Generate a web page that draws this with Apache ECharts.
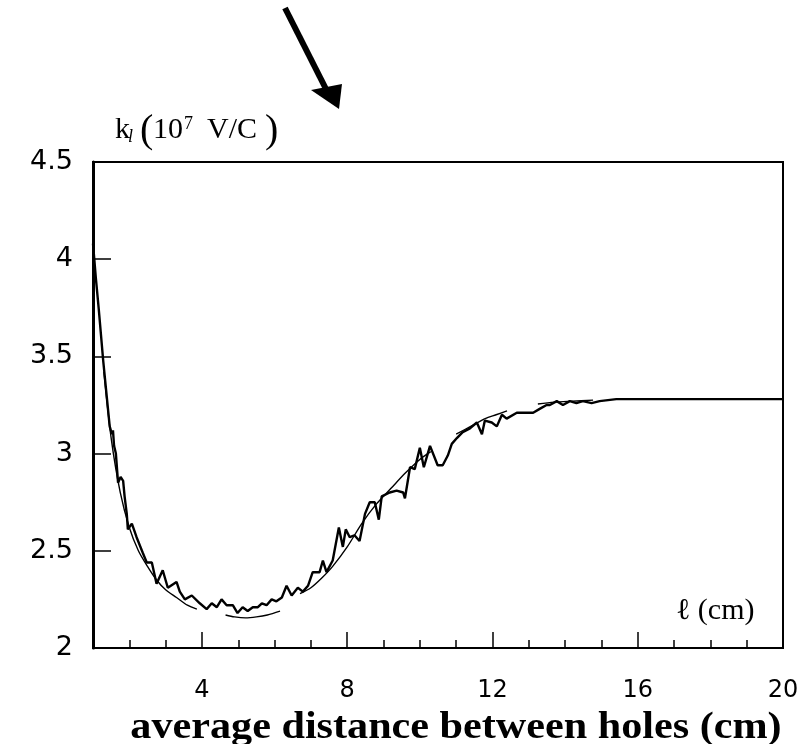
<!DOCTYPE html>
<html>
<head>
<meta charset="utf-8">
<script src="https://cdn.jsdelivr.net/npm/echarts@6/dist/echarts.min.js"></script>
<style>
html,body{margin:0;padding:0;background:#fff;}
#chart{width:811px;height:744px;}
</style>
</head>
<body>
<div id="chart"></div>
<script>
// ---- tick labels ----
const xTickLabels = [4, 8, 12, 16, 20];
const xMajorTicks = [4, 8, 12, 16];
const xMinorTicks = [2, 3, 5, 6, 7, 9, 10, 11, 13, 14, 15, 17, 18, 19];
const yTickLabels = [2, 2.5, 3, 3.5, 4, 4.5];

// ---- measured (noisy) curve ----
const measuredX = [1.0, 1.08, 1.16, 1.28, 1.46, 1.52, 1.55, 1.58, 1.63, 1.69, 1.76, 1.83, 1.87, 1.93, 1.96, 2.07, 2.2, 2.37, 2.48, 2.62, 2.75, 2.92, 3.06, 3.3, 3.39, 3.53, 3.72, 3.94, 4.13, 4.27, 4.41, 4.54, 4.68, 4.85, 4.98, 5.12, 5.26, 5.4, 5.54, 5.65, 5.78, 5.92, 6.05, 6.2, 6.33, 6.47, 6.64, 6.78, 6.92, 7.05, 7.24, 7.33, 7.43, 7.6, 7.77, 7.88, 7.96, 8.07, 8.2, 8.34, 8.49, 8.62, 8.76, 8.87, 8.95, 9.17, 9.36, 9.54, 9.59, 9.73, 9.86, 10.0, 10.11, 10.28, 10.49, 10.63, 10.77, 10.88, 11.02, 11.18, 11.38, 11.57, 11.71, 11.79, 11.98, 12.12, 12.26, 12.39, 12.67, 12.94, 13.12, 13.3, 13.49, 13.58, 13.77, 13.94, 14.13, 14.31, 14.49, 14.73, 14.95, 15.41, 15.85, 20];
const measuredY = [4.08, 3.9, 3.74, 3.48, 3.14, 3.1, 3.12, 3.04, 3.0, 2.85, 2.88, 2.86, 2.78, 2.69, 2.61, 2.64, 2.57, 2.49, 2.44, 2.44, 2.33, 2.4, 2.31, 2.34, 2.29, 2.25, 2.27, 2.23, 2.2, 2.23, 2.21, 2.25, 2.22, 2.22, 2.18, 2.21, 2.19, 2.21, 2.21, 2.23, 2.22, 2.25, 2.24, 2.26, 2.32, 2.27, 2.31, 2.29, 2.32, 2.39, 2.39, 2.45, 2.39, 2.45, 2.62, 2.52, 2.61, 2.57, 2.58, 2.55, 2.69, 2.75, 2.75, 2.66, 2.78, 2.8, 2.81, 2.8, 2.77, 2.93, 2.92, 3.03, 2.93, 3.04, 2.94, 2.94, 2.99, 3.05, 3.08, 3.11, 3.13, 3.16, 3.1, 3.17, 3.16, 3.14, 3.2, 3.18, 3.21, 3.21, 3.21, 3.23, 3.25, 3.25, 3.27, 3.25, 3.27, 3.26, 3.27, 3.26, 3.27, 3.28, 3.28, 3.28];

// ---- smooth fit segments ----
const fit1X = [1.3, 1.5, 1.75, 2.0, 2.25, 2.5, 2.75, 3.0, 3.3, 3.6, 3.86];
const fit1Y = [3.42, 3.08, 2.8, 2.62, 2.5, 2.42, 2.35, 2.3, 2.26, 2.22, 2.2];
const fit2X = [4.65, 4.9, 5.2, 5.5, 5.8, 6.15];
const fit2Y = [2.17, 2.16, 2.155, 2.16, 2.17, 2.19];
const fit3X = [6.7, 7.0, 7.3, 7.6, 8.0, 8.4, 8.8, 9.2, 9.6, 10.0, 10.3];
const fit3Y = [2.28, 2.31, 2.36, 2.42, 2.52, 2.64, 2.74, 2.82, 2.9, 2.97, 3.01];
const fit4X = [11.0, 11.4, 11.8, 12.1, 12.4];
const fit4Y = [3.1, 3.14, 3.18, 3.2, 3.22];
const fit5X = [13.25, 13.7, 14.2, 14.77];
const fit5Y = [3.255, 3.265, 3.27, 3.275];

const zip = (xs, ys) => xs.map((x, i) => [x, ys[i]]);

const chart = echarts.init(document.getElementById('chart'), null, {renderer: 'canvas'});

const fitSeries = [[fit1X, fit1Y], [fit2X, fit2Y], [fit3X, fit3Y], [fit4X, fit4Y], [fit5X, fit5Y]].map(([xs, ys], i) => ({
  type: 'line',
  name: 'fit' + (i + 1),
  data: zip(xs, ys),
  showSymbol: false,
  symbol: 'none',
  smooth: 0.3,
  lineStyle: {color: '#000', width: 1.4},
  z: 3,
  silent: true
}));

const serif = "'Liberation Serif', 'Times New Roman', 'DejaVu Serif', serif";

const option = {
  backgroundColor: '#fff',
  animation: false,
  grid: {
    left: 93, right: 28, top: 162, bottom: 96,
    show: true, borderColor: '#000', borderWidth: 2, backgroundColor: 'transparent'
  },
  xAxis: [
    {
      type: 'value', min: 1, max: 20,
      axisLine: {show: true, lineStyle: {color: '#000', width: 2}},
      axisTick: {show: true, inside: true, length: 16, customValues: xMajorTicks, lineStyle: {color: '#000', width: 1.5}},
      axisLabel: {customValues: xTickLabels, margin: 31, color: '#000', fontSize: 24, fontFamily: "'DejaVu Sans', sans-serif"},
      splitLine: {show: false}
    },
    {
      type: 'value', min: 1, max: 20, position: 'bottom',
      axisLine: {show: false},
      axisTick: {show: true, inside: true, length: 8, customValues: xMinorTicks, lineStyle: {color: '#000', width: 1.5}},
      axisLabel: {show: false},
      splitLine: {show: false}
    }
  ],
  yAxis: {
    type: 'value', min: 2, max: 4.5, interval: 0.5,
    axisLine: {show: true, lineStyle: {color: '#000', width: 3}},
    axisTick: {show: true, inside: true, length: 18, customValues: yTickLabels, lineStyle: {color: '#000', width: 1.5}},
    axisLabel: {customValues: yTickLabels, margin: 20, color: '#000', fontSize: 27, fontFamily: "'DejaVu Sans', sans-serif"},
    splitLine: {show: false}
  },
  series: [
    {
      type: 'line',
      name: 'measured',
      data: zip(measuredX, measuredY),
      showSymbol: false,
      symbol: 'none',
      lineStyle: {color: '#000', width: 2.4},
      z: 4,
      silent: true
    }
  ].concat(fitSeries),
  graphic: [
    // arrow
    {type: 'line', shape: {x1: 285, y1: 8, x2: 328, y2: 93}, style: {stroke: '#000', lineWidth: 6}},
    {type: 'polygon', shape: {points: [[339, 109], [311, 90], [342, 84]]}, style: {fill: '#000'}},
    // y-axis title k_l(10^7 V/C)
    {type: 'text', style: {text: 'k', x: 115, y: 130, font: '30px ' + serif, fill: '#000', verticalAlign: 'middle'}},
    {type: 'text', style: {text: 'l', x: 128, y: 137, font: 'italic 18px ' + serif, fill: '#000', verticalAlign: 'middle'}},
    {type: 'text', style: {text: '(', x: 140, y: 131, font: '40px ' + serif, fill: '#000', verticalAlign: 'middle'}},
    {type: 'text', style: {text: '10', x: 153, y: 130, font: '30px ' + serif, fill: '#000', verticalAlign: 'middle'}},
    {type: 'text', style: {text: '7', x: 184, y: 124, font: '18px ' + serif, fill: '#000', verticalAlign: 'middle'}},
    {type: 'text', style: {text: 'V/C', x: 207, y: 130, font: '30px ' + serif, fill: '#000', verticalAlign: 'middle'}},
    {type: 'text', style: {text: ')', x: 265, y: 131, font: '40px ' + serif, fill: '#000', verticalAlign: 'middle'}},
    // axis unit label inside plot
    {type: 'text', style: {text: 'ℓ (cm)', x: 676, y: 611, font: '30px ' + serif, fill: '#000', verticalAlign: 'middle'}},
    // x-axis caption
    {type: 'text', x: 456, y: 728, scaleX: 1.11, style: {text: 'average distance between holes (cm)', x: 0, y: 0, font: 'bold 38px ' + serif, fill: '#000', align: 'center', verticalAlign: 'middle'}}
  ]
};
chart.setOption(option);
</script>
</body>
</html>
